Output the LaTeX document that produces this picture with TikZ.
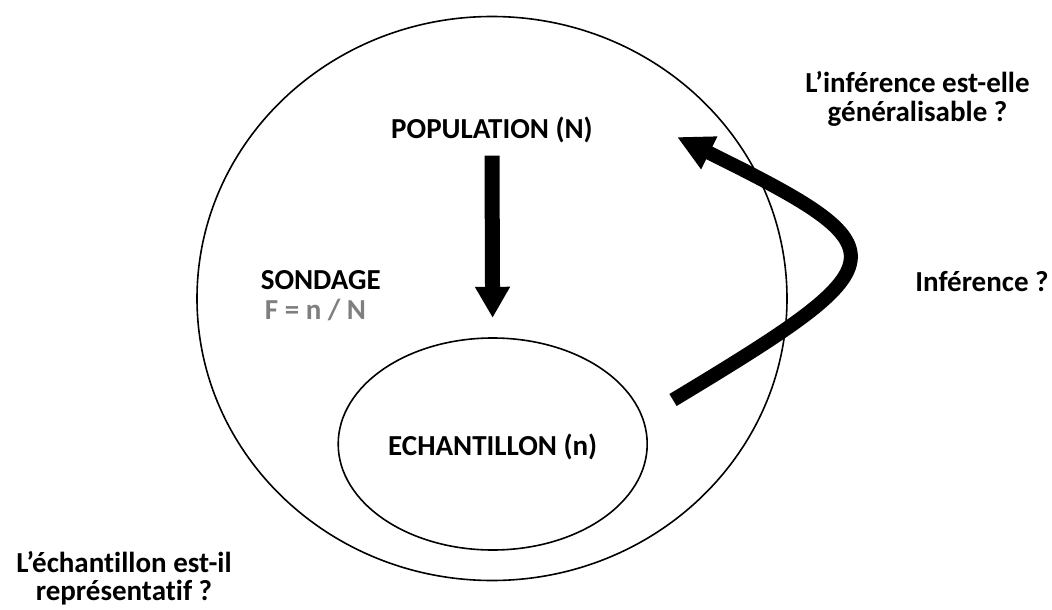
\documentclass[tikz,border=0pt]{standalone}
\usepackage{fontspec}
\setmainfont{Carlito}[Ligatures={NoCommon}]
\usetikzlibrary{arrows.meta,shapes.geometric}
\definecolor{fgray}{RGB}{127,127,127}
\begin{document}
\begin{tikzpicture}[x=1pt,y=-1pt,
  lbl/.style={font=\bfseries\fontsize{29}{28.5}\selectfont, inner sep=0pt, align=center},
  ring/.style={draw, ellipse, line width=1.6pt, inner sep=0pt},
  fatarrow/.style={line width=15pt, -{Triangle[width=33pt,length=31pt]}},
  curvarrow/.style={line width=14pt, -{Triangle[width=34pt,length=36pt]}},
]
\useasboundingbox (0,0) rectangle (1052,610);
\node[ring, minimum width=590pt, minimum height=564pt] (popring) at (492,298.5) {};
\node[ring, minimum width=309pt, minimum height=212pt] (echring) at (492.7,444) {};
\node[lbl, minimum height=51pt] (pop) at (492,130) {POPULATION (N)};
\node[lbl] (ech) at (492.7,447) {ECHANTILLON (n)};
\node[lbl, anchor=base west, text height=18pt, text depth=0pt] (sond) at (260.6,289) {SONDAGE};
\node[lbl, anchor=base west, text height=18pt, text depth=4pt, text=fgray] (frac) at (264.7,319.5) {F = n / N};
\node[lbl] (q1) at (917.5,99) {L’inférence est-elle\\généralisable ?};
\node[lbl] (inf) at (982,282) {Inférence ?};
\node[lbl] (q2) at (124,578) {L’échantillon est-il\\représentatif ?};
\draw[fatarrow, shorten >=19.4pt] (pop.south) -- (echring.north);
\coordinate (infstart) at (673,400);
\coordinate (infend) at (677,137);
\draw[curvarrow] (infstart) .. controls (902,262) and (906,250) .. (infend);
\end{tikzpicture}
\end{document}
